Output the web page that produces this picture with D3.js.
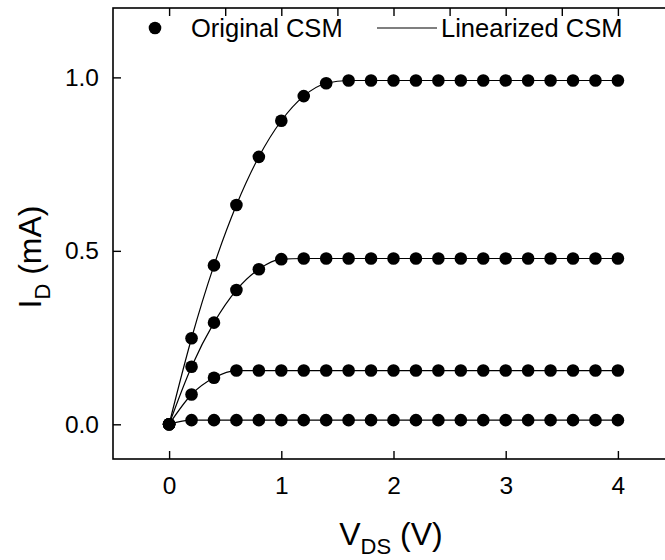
<!DOCTYPE html>
<html>
<head>
<meta charset="utf-8">
<script src="https://cdn.jsdelivr.net/npm/d3@7"></script>
<style>
  body { margin: 0; background: #fff; }
  text { font-family: Arial, "Liberation Sans", sans-serif; fill: #000; }
</style>
</head>
<body>
<div id="chart"></div>
<script>
// drain voltage sweep (V)
var vds = [0, 0.2, 0.4, 0.6, 0.8, 1.0, 1.2, 1.4, 1.6, 1.8, 2.0, 2.2, 2.4, 2.6, 2.8, 3.0, 3.2, 3.4, 3.6, 3.8, 4.0];
// drain current (mA) for each gate bias curve
var id1 = [0, 0.012, 0.012, 0.012, 0.012, 0.012, 0.012, 0.012, 0.012, 0.012, 0.012, 0.012, 0.012, 0.012, 0.012, 0.012, 0.012, 0.012, 0.012, 0.012, 0.012];
var id2 = [0, 0.086, 0.134, 0.155, 0.155, 0.155, 0.155, 0.155, 0.155, 0.155, 0.155, 0.155, 0.155, 0.155, 0.155, 0.155, 0.155, 0.155, 0.155, 0.155, 0.155];
var id3 = [0, 0.166, 0.293, 0.387, 0.447, 0.476, 0.478, 0.478, 0.478, 0.478, 0.478, 0.478, 0.478, 0.478, 0.478, 0.478, 0.478, 0.478, 0.478, 0.478, 0.478];
var id4 = [0, 0.248, 0.458, 0.632, 0.771, 0.875, 0.946, 0.983, 0.991, 0.991, 0.991, 0.991, 0.991, 0.991, 0.991, 0.991, 0.991, 0.991, 0.991, 0.991, 0.991];
var curves = [id1, id2, id3, id4];
var xTicks = [0, 1, 2, 3, 4];
var yTicks = [0, 0.5, 1.0];
var legendLabels = ["Original CSM", "Linearized CSM"];

(function () {
    "use strict";
    var w = 665, h = 560;
    var left = 113, right = 674, top = 8, bottom = 459;
    var font = 'Arial, "Liberation Sans", sans-serif';

    var svg = d3.select('#chart').append('svg').attr('width', w).attr('height', h);

    var x = d3.scaleLinear().domain([-0.5, 4.5]).range([left, right]);
    var y = d3.scaleLinear().domain([-0.1, 1.2]).range([bottom, top]);

    // frame
    svg.append('rect')
        .attr('x', left).attr('y', top)
        .attr('width', right - left).attr('height', bottom - top)
        .attr('fill', 'none').attr('stroke', '#000').attr('stroke-width', 1.6);

    // bottom axis, ticks pointing inward
    var xAxis = svg.append('g').attr('transform', 'translate(0,' + bottom + ')')
        .call(d3.axisBottom(x).tickValues(xTicks).tickFormat(d3.format('d'))
            .tickSizeInner(-8).tickSizeOuter(0).tickPadding(18));
    xAxis.select('.domain').remove();
    xAxis.selectAll('line').attr('stroke-width', 1.4);
    xAxis.selectAll('text').attr('font-size', 24.5).attr('font-family', font);

    // top axis, unlabelled
    var topAxis = svg.append('g').attr('transform', 'translate(0,' + top + ')')
        .call(d3.axisTop(x).tickValues(d3.range(0, 4.51, 0.5)).tickFormat('')
            .tickSizeInner(-8).tickSizeOuter(0));
    topAxis.select('.domain').remove();
    topAxis.selectAll('line').attr('stroke-width', 1.4);

    // left axis
    var yAxis = svg.append('g').attr('transform', 'translate(' + left + ',0)')
        .call(d3.axisLeft(y).tickValues(yTicks).tickFormat(d3.format('.1f'))
            .tickSizeInner(-8).tickSizeOuter(0).tickPadding(14));
    yAxis.select('.domain').remove();
    yAxis.selectAll('line').attr('stroke-width', 1.4);
    yAxis.selectAll('text').attr('font-size', 24.5).attr('font-family', font);

    // smooth lines (linearized model)
    var line = d3.line()
        .x(function (d, i) { return x(vds[i]); })
        .y(function (d) { return y(d); })
        .curve(d3.curveMonotoneX);

    svg.selectAll('path.curve').data(curves).enter().append('path')
        .attr('class', 'curve')
        .attr('d', line)
        .attr('fill', 'none').attr('stroke', '#000').attr('stroke-width', 1.2);

    // dots (original model)
    curves.forEach(function (c) {
        svg.selectAll(null).data(c).enter().append('circle')
            .attr('cx', function (d, i) { return x(vds[i]); })
            .attr('cy', function (d) { return y(d); })
            .attr('r', 6.3)
            .attr('fill', '#000');
    });

    // legend
    var lg = svg.append('g');
    lg.append('circle').attr('cx', 155).attr('cy', 28).attr('r', 6.3).attr('fill', '#000');
    lg.append('text').attr('x', 191).attr('y', 37).attr('font-size', 25.5).text(legendLabels[0]);
    lg.append('line').attr('x1', 377).attr('x2', 437).attr('y1', 28).attr('y2', 28)
        .attr('stroke', '#000').attr('stroke-width', 1.2);
    lg.append('text').attr('x', 441).attr('y', 37).attr('font-size', 25.5).text(legendLabels[1]);

    // x title
    var xt = svg.append('text').attr('x', 391).attr('y', 545)
        .attr('text-anchor', 'middle').attr('font-size', 32);
    xt.append('tspan').text('V');
    xt.append('tspan').attr('font-size', 22).attr('dy', 9).text('DS');
    xt.append('tspan').attr('dy', -9).text(' (V)');

    // y title
    var yt = svg.append('text').attr('transform', 'translate(41,257) rotate(-90)')
        .attr('text-anchor', 'middle').attr('font-size', 32);
    yt.append('tspan').text('I');
    yt.append('tspan').attr('font-size', 22).attr('dy', 9).text('D');
    yt.append('tspan').attr('dy', -9).text(' (mA)');
}());
</script>
</body>
</html>
